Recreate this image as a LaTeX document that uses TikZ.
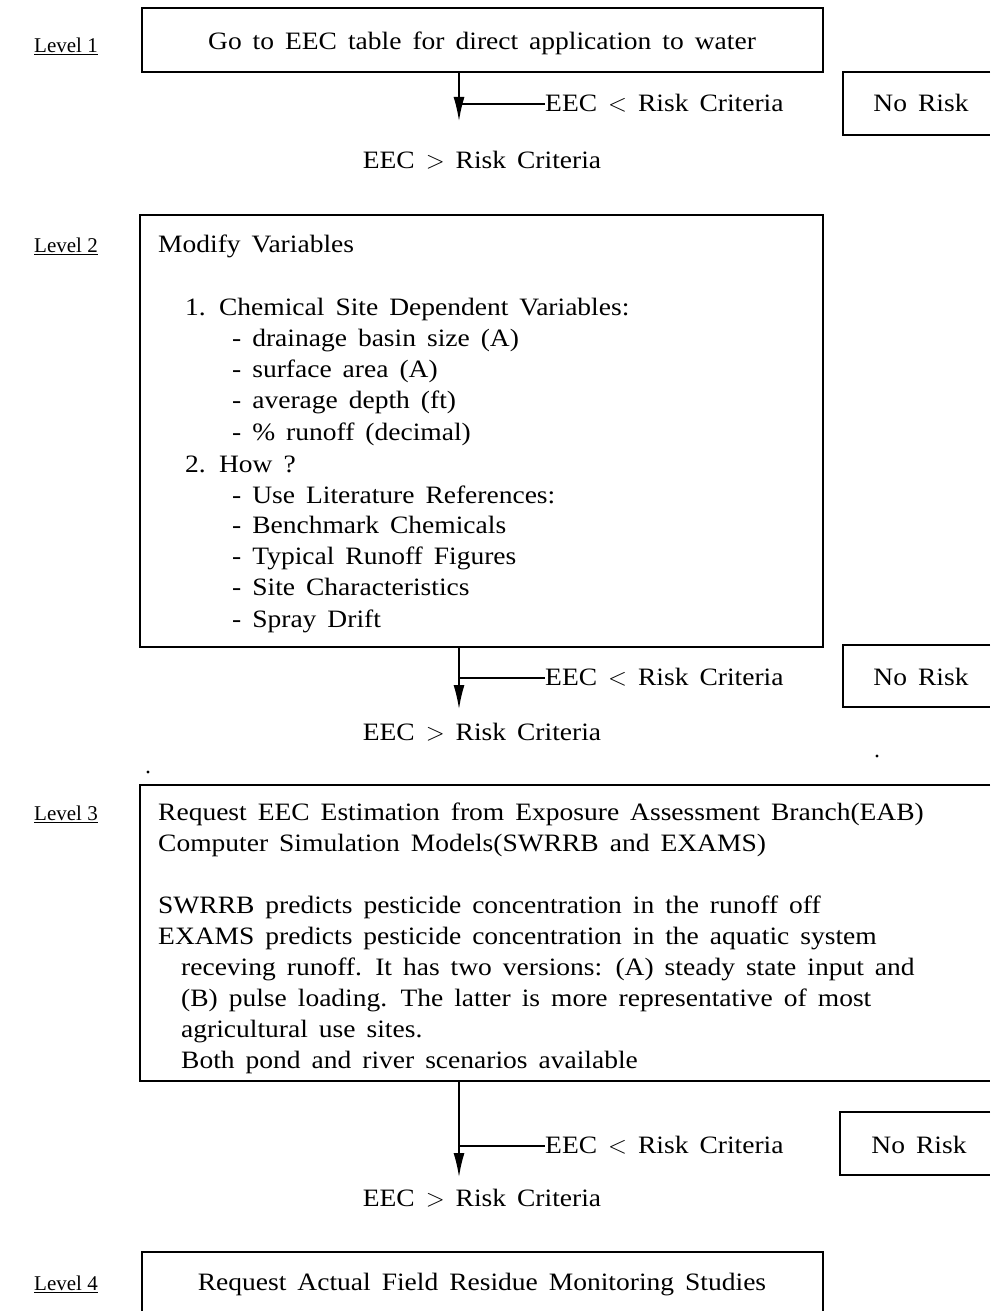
\documentclass[tikz,border=0pt]{standalone}
\usepackage{fontspec}
\setmainfont{Liberation Serif}[FakeStretch=1.1, WordSpace=1.6]
\newfontfamily\lvfont{Liberation Serif}
\usetikzlibrary{arrows.meta}
\newcommand{\mysz}{\fontsize{25}{31}\selectfont}
\newcommand{\lvsz}{\lvfont\fontsize{21}{26}\selectfont}
\begin{document}
\begin{tikzpicture}[x=1pt,y=-1pt,
  txt/.style={inner sep=0pt, font=\mysz, anchor=mid west, yshift=-5pt},
  ctxt/.style={inner sep=0pt, font=\mysz, anchor=mid, yshift=-5pt},
  lvl/.style={inner sep=0pt, font=\lvsz, anchor=mid west, yshift=-5pt},
  boxline/.style={line width=1.3pt},
  flow/.style={line width=1.5pt, -{Latex[length=24pt,width=11pt]}},
  branch/.style={line width=1.3pt}]
\useasboundingbox (0,0) rectangle (990,1311);

% ---------- Level 1 ----------
\node[lvl] (lv1) at (34,45) {\underline{Level 1}};
\node[draw, boxline, minimum width=681pt, minimum height=64pt, inner sep=0pt] (b1) at (482.5,40) {};
\node[ctxt] (t1) at (482,42) {Go to EEC table for direct application to water};
\node[txt] (lt1) at (545,104) {EEC $<$ Risk Criteria};
\node[ctxt] (nr1) at (921,104) {No Risk};
\draw[boxline] (990,72) -- (843,72) -- (843,135) -- (990,135);
\node[ctxt] (gt1) at (482,161) {EEC $>$ Risk Criteria};
\coordinate (e1) at (459,121);
\coordinate (j1) at (459,104);
\coordinate (k1) at (545,104);
\draw[flow] (b1.south -| e1) -- (e1);
\draw[branch] (j1) -- (k1);

% ---------- Level 2 ----------
\node[lvl] (lv2) at (34,245) {\underline{Level 2}};
\node[draw, boxline, minimum width=683pt, minimum height=432pt, inner sep=0pt] (b2) at (481.5,431) {};
\node[txt] (m0) at (158,245) {Modify Variables};
\node[txt] (m1) at (185,308) {1. Chemical Site Dependent Variables:};
\node[txt] (m2) at (232,339) {- drainage basin size (A)};
\node[txt] (m3) at (232,370) {- surface area (A)};
\node[txt] (m4) at (232,401) {- average depth (ft)};
\node[txt] (m5) at (232,433) {- \% runoff (decimal)};
\node[txt] (m6) at (185,465) {2. How ?};
\node[txt] (m7) at (232,496) {- Use Literature References:};
\node[txt] (m8) at (232,526) {- Benchmark Chemicals};
\node[txt] (m9) at (232,557) {- Typical Runoff Figures};
\node[txt] (m10) at (232,588) {- Site Characteristics};
\node[txt] (m11) at (232,620) {- Spray Drift};
\node[txt] (lt2) at (545,678) {EEC $<$ Risk Criteria};
\node[ctxt] (nr2) at (921,678) {No Risk};
\draw[boxline] (990,645) -- (843,645) -- (843,707) -- (990,707);
\node[ctxt] (gt2) at (482,733) {EEC $>$ Risk Criteria};
\coordinate (e2) at (459,709);
\coordinate (j2) at (459,678);
\coordinate (k2) at (545,678);
\draw[flow] (b2.south -| e2) -- (e2);
\draw[branch] (j2) -- (k2);

\fill (148,772) circle (1.6pt);
\fill (877,756) circle (1.6pt);

% ---------- Level 3 ----------
\node[lvl] (lv3) at (34,813) {\underline{Level 3}};
\draw[boxline] (990,785) -- (140,785) -- (140,1081) -- (990,1081);
\coordinate (b3s) at (459,1081);
\node[txt] (r1) at (158,813) {Request EEC Estimation from Exposure Assessment Branch(EAB)};
\node[txt] (r2) at (158,844) {Computer Simulation Models(SWRRB and EXAMS)};
\node[txt] (r3) at (158,906) {SWRRB predicts pesticide concentration in the runoff off};
\node[txt] (r4) at (158,937) {EXAMS predicts pesticide concentration in the aquatic system};
\node[txt] (r5) at (181,968) {receving runoff. It has two versions: (A) steady state input and};
\node[txt] (r6) at (181,999) {(B) pulse loading. The latter is more representative of most};
\node[txt] (r7) at (181,1030) {agricultural use sites.};
\node[txt] (r8) at (181,1061) {Both pond and river scenarios available};
\node[txt] (lt3) at (545,1146) {EEC $<$ Risk Criteria};
\node[ctxt] (nr3) at (919,1146) {No Risk};
\draw[boxline] (990,1112) -- (840,1112) -- (840,1175) -- (990,1175);
\node[ctxt] (gt3) at (482,1199) {EEC $>$ Risk Criteria};
\coordinate (e3) at (459,1177);
\coordinate (j3) at (459,1146);
\coordinate (k3) at (545,1146);
\draw[flow] (b3s) -- (e3);
\draw[branch] (j3) -- (k3);

% ---------- Level 4 ----------
\node[lvl] (lv4) at (34,1283) {\underline{Level 4}};
\draw[boxline] (142,1320) -- (142,1252) -- (823,1252) -- (823,1320);
\node[ctxt] (t4) at (482,1283) {Request Actual Field Residue Monitoring Studies};
\end{tikzpicture}
\end{document}
